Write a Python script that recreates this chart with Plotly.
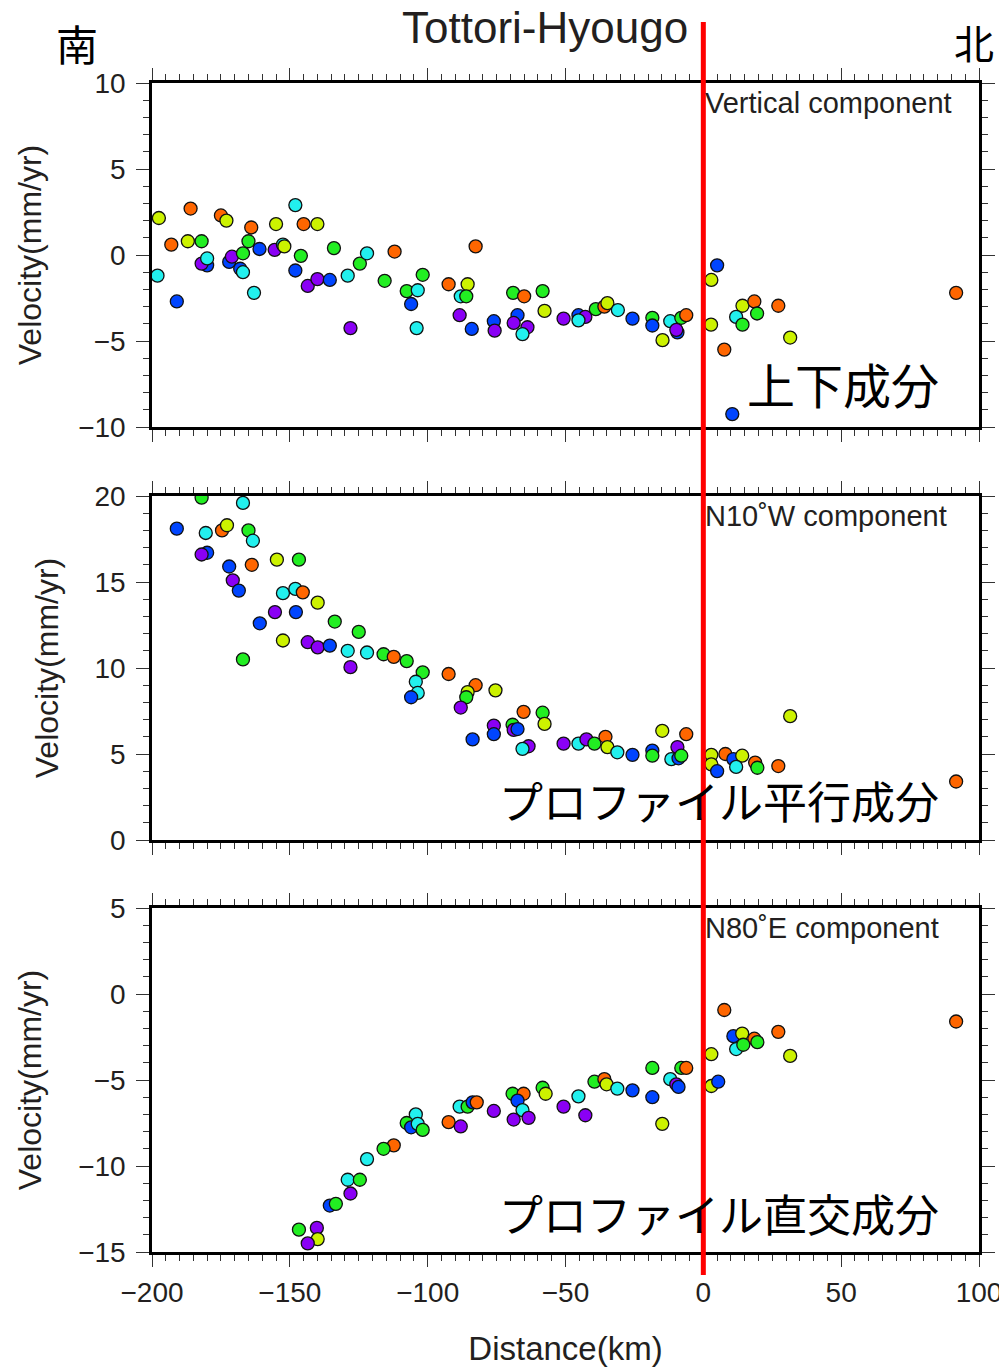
import plotly.graph_objects as go

# ---------------- data (distance km, velocity mm/yr, colour code) ----------------
v_x = [-197.5, -186, -193, -187, -182, -198, -191, -180, -182, -180, -175, -173, -172, -171,
       -168, -167, -167, -165, -164, -163, -161, -155, -155.5, -152.5, -152, -148, -145, -140,
       -146, -148, -143.5, -140, -135.5, -134, -129, -124.6, -122, -128, -112, -115.6, -107.6,
       -103.6, -106, -104, -101.8,
       -82.6, -92.4, -85.5, -88, -86, -88.4, -84, -76, -75.7, -69, -65, -67.4, -68.8, -63.8,
       -65.6, -58.3, -57.6, -50.7, -45.3, -42.8, -45.3, -39, -35.9, -34.8, -31, -25.7, -18.5,
       -18.5, -14.8, -12, -8, -6.2, -9.4, -9.8, 5, 2.9, 2.8, 7.6, 14.2, 18.5, 19.5, 11.9, 14.2,
       27.2, 31.5, 10.5, 91.7]
v_y = [2.15, 2.7, 0.6, 0.8, 0.8, -1.2, -2.7, -0.6, -0.5, -0.2, 2.3, 2.0, -0.4, -0.1,
       -0.8, -1.0, 0.1, 0.8, 1.6, -2.2, 0.35, 1.8, 0.3, 0.6, 0.5, 2.9, 1.8, 1.8,
       -0.05, -0.9, -1.8, -1.4, -1.45, 0.4, -1.2, -0.5, 0.1, -4.25, 0.2, -1.5, -2.1,
       -2.05, -2.85, -4.25, -1.15,
       0.5, -1.7, -1.7, -2.4, -2.4, -3.5, -4.3, -3.85, -4.4, -2.2, -2.4, -3.5, -3.95, -4.2,
       -4.6, -2.1, -3.25, -3.7, -3.5, -3.6, -3.8, -3.15, -3.0, -2.8, -3.2, -3.7, -3.65,
       -4.1, -4.95, -3.85, -3.65, -3.5, -4.5, -4.35, -0.6, -1.45, -4.05, -5.5, -2.95, -2.7, -3.4, -3.6, -4.05,
       -2.95, -4.8, -9.25, -2.2]
v_c = ["y", "o", "o", "y", "g", "c", "b", "b", "p", "c", "o", "y", "b", "p",
       "b", "c", "g", "g", "o", "c", "b", "y", "p", "c", "y", "c", "o", "y",
       "g", "b", "p", "p", "b", "g", "c", "g", "c", "p", "o", "g", "g",
       "c", "b", "c", "g",
       "o", "o", "y", "c", "g", "p", "b", "b", "p", "g", "o", "b", "p", "p",
       "c", "g", "y", "p", "b", "p", "c", "g", "o", "y", "c", "b", "g",
       "b", "y", "c", "g", "o", "b", "p", "b", "y", "y", "o", "y", "o", "g", "c", "g",
       "o", "y", "b", "o"]

n_x = [-182, -167, -191, -180.5, -174.6, -172.8, -165, -163.4, -180, -182, -154.7, -146.7,
       -172, -163.8, -170.7, -168.5, -152.5, -148, -145.3, -139.9, -155.4, -147.8, -160.9,
       -133.7, -125, -152.5, -143.5, -139.9, -135.5, -129, -122, -167, -116, -112.3, -107.6,
       -128, -101.8, -104.3, -103.6, -106, -92.4, -82.6, -85.5, -86, -75.4, -88, -65.2, -58.3,
       -57.6, -76, -69.2, -68.8, -67.4, -76, -83.7, -63.4, -65.6, -50.7, -45.3, -42.4, -39.5,
       -35.5, -34.8, -31.2, -25.7, -18.5, -18.5, -14.9, -6.2, -9.4, -11.6, -9, -8,
       2.9, 2.9, 5, 8, 10.9, 14.1, 11.9, 18.8, 19.6, 27.2, 31.5, 91.7]
n_y = [19.9, 19.6, 18.1, 17.85, 18.0, 18.3, 18.0, 17.4, 16.7, 16.6, 16.3, 16.3,
       15.9, 16.0, 15.1, 14.5, 14.35, 14.6, 14.4, 13.8, 13.25, 13.25, 12.6,
       12.7, 12.1, 11.6, 11.5, 11.2, 11.3, 11.0, 10.9, 10.5, 10.8, 10.65, 10.4,
       10.05, 9.75, 9.2, 8.55, 8.3, 9.65, 9.0, 8.6, 8.3, 8.7, 7.7, 7.45, 7.4,
       6.75, 6.65, 6.7, 6.4, 6.45, 6.15, 5.85, 5.45, 5.3, 5.6, 5.6, 5.85, 5.6,
       6.0, 5.4, 5.1, 4.95, 5.2, 4.9, 6.35, 6.15, 5.4, 4.7, 4.75, 4.9,
       4.95, 4.4, 4.0, 5.0, 4.7, 4.9, 4.25, 4.5, 4.2, 4.3, 7.2, 3.4]
n_c = ["g", "c", "b", "c", "o", "y", "g", "c", "b", "p", "y", "g",
       "b", "o", "p", "b", "c", "c", "o", "y", "p", "b", "b",
       "g", "g", "y", "p", "p", "b", "c", "c", "g", "g", "o", "g",
       "p", "g", "c", "c", "b", "o", "o", "y", "g", "y", "p", "o", "g",
       "y", "p", "g", "p", "b", "b", "b", "p", "c", "p", "c", "p", "g",
       "o", "y", "c", "b", "b", "g", "y", "o", "p", "c", "b", "g",
       "y", "y", "b", "o", "b", "y", "c", "o", "g", "o", "y", "o"]

e_x = [-104.3, -107.6, -106, -103.6, -101.8, -92.4, -88, -88.4, -85.5, -83.7, -82.2,
       -112.3, -116, -122, -129, -124.6, -128, -135.5, -133.3, -146.7, -140.2, -139.9, -143.5,
       -76, -69.2, -65.2, -67.4, -65.6, -68.8, -63.4, -58.3, -57.2, -50.7, -45.3, -42.8,
       -39.5, -35.9, -35.1, -31.2, -25.7, -18.5, -18.5, -14.9, -12, -9.8, -9, -8, -6.2,
       7.6, 10.9, 14.1, 18.5, 19.6, 11.9, 14.5, 2.9, 2.9, 5.4, 27.2, 31.5, 91.7]
e_y = [-7.0, -7.5, -7.75, -7.55, -7.9, -7.45, -7.7, -6.55, -6.55, -6.3, -6.3,
       -8.8, -9.0, -9.6, -10.8, -10.8, -11.6, -12.3, -12.2, -13.7, -13.6, -14.25, -14.5,
       -6.8, -5.8, -5.8, -6.2, -6.75, -7.3, -7.2, -5.45, -5.8, -6.55, -5.95, -7.05,
       -5.1, -4.95, -5.25, -5.5, -5.6, -6.0, -4.3, -7.55, -4.95, -5.25, -5.4, -4.3, -4.3,
       -0.93, -2.45, -2.3, -2.6, -2.8, -3.2, -2.95, -3.5, -5.35, -5.1, -2.2, -3.6, -1.6]
e_c = ["c", "g", "b", "c", "g", "o", "p", "c", "g", "b", "o",
       "o", "g", "c", "c", "g", "p", "b", "g", "g", "p", "y", "p",
       "p", "g", "o", "b", "c", "p", "p", "g", "y", "p", "c", "p",
       "g", "o", "y", "c", "b", "b", "g", "y", "c", "p", "b", "g", "o",
       "o", "b", "y", "o", "g", "c", "g", "y", "y", "b", "o", "y", "o"]

panel_labels = ["Vertical component", "N10˚W component", "N80˚E component"]
jp_labels = ["上下成分", "プロファイル平行成分", "プロファイル直交成分"]
y_ranges = [[-10, 10], [0, 20], [-15, 5]]
x_ticks = [-200, -150, -100, -50, 0, 50, 100]

COLORS = {"o": "#ff6600", "y": "#ccf200", "g": "#22ee22", "c": "#22f0ee",
          "b": "#0045ff", "p": "#8a00f5"}

# ---------------- figure ----------------
W, H = 999, 1368
L, R, T, B = 152, 20, 83, 116
plot_w = W - L - R
plot_h = H - T - B


def fy(py):
    return (H - B - py) / plot_h


def fx(px):
    return (px - L) / plot_w


domains = [[fy(427), 1.0], [fy(840), fy(496)], [0.0, fy(908)]]
TXT = "#231f20"
FONT = "Liberation Sans, Arial, Helvetica, sans-serif"

fig = go.Figure()
datasets = [(v_x, v_y, v_c), (n_x, n_y, n_c), (e_x, e_y, e_c)]
for i, (xs, ys, cs) in enumerate(datasets):
    k = "" if i == 0 else str(i + 1)
    fig.add_trace(go.Scatter(
        x=xs, y=ys, mode="markers", xaxis="x" + k, yaxis="y" + k,
        marker=dict(size=13, color=[COLORS[c] for c in cs],
                    line=dict(color="#111111", width=1.3)),
        showlegend=False, hoverinfo="skip"))

layout = dict(
    width=W, height=H, margin=dict(l=L, r=R, t=T, b=B, autoexpand=False),
    paper_bgcolor="white", plot_bgcolor="white",
    font=dict(family=FONT, color=TXT, size=24),
)
for i in range(3):
    k = "" if i == 0 else str(i + 1)
    xa = dict(range=[-200, 100], domain=[0, 1], showgrid=False, zeroline=False,
              automargin=False, ticklabeloverflow="allow",
              showline=True, linecolor="black", linewidth=2.5, mirror="allticks",
              ticks="outside", ticklen=12, tickwidth=1, tickcolor="#333333",
              tickvals=x_ticks, ticktext=[str(t).replace("-", "−") for t in x_ticks],
              showticklabels=(i == 2), tickfont=dict(size=28, family=FONT, color=TXT),
              ticklabelstandoff=2,
              minor=dict(ticks="outside", ticklen=6, tickwidth=1, tickcolor="#333333", dtick=5,
                         showgrid=False),
              anchor="y" + k)
    if i == 2:
        xa["title"] = dict(text="Distance(km)", font=dict(size=33, family=FONT, color=TXT),
                           standoff=30)
    else:
        xa["matches"] = "x3"
    yr = y_ranges[i]
    yt = list(range(yr[0], yr[1] + 1, 5))
    ya = dict(range=yr, domain=domains[i], showgrid=False, zeroline=False,
              automargin=False,
              showline=True, linecolor="black", linewidth=2.5, mirror="allticks",
              ticks="outside", ticklen=13, tickwidth=1, tickcolor="#333333",
              tickvals=yt, ticktext=[str(t).replace("-", "−") for t in yt],
              tickfont=dict(size=28, family=FONT, color=TXT),
              ticklabelstandoff=5,
              minor=dict(ticks="outside", ticklen=6, tickwidth=1, tickcolor="#333333", dtick=1,
                         showgrid=False),
              title=dict(text="Velocity(mm/yr)", font=dict(size=32, family=FONT, color=TXT),
                         standoff=27),
              anchor="x" + k)
    layout["xaxis" + k] = xa
    layout["yaxis" + k] = ya
fig.update_layout(**layout)

ann = []
top_px = [83, 496, 908]
jp_px = [383, 800, 1213]
jp_size = [48, 44, 44]
for i in range(3):
    ann.append(dict(text=panel_labels[i], xref="paper", yref="paper",
                    x=fx(703), y=fy(top_px[i] + 2), xanchor="left", yanchor="top",
                    showarrow=False, font=dict(size=29, family=FONT, color=TXT)))
    ann.append(dict(text=jp_labels[i], xref="paper", yref="paper",
                    x=fx(941), y=fy(jp_px[i]), xanchor="right", yanchor="middle",
                    showarrow=False, font=dict(size=jp_size[i], family="Noto Sans CJK JP",
                                               color="black")))
ann.append(dict(text="Tottori-Hyougo", xref="paper", yref="paper",
                x=fx(545), y=fy(28), xanchor="center", yanchor="middle",
                showarrow=False, font=dict(size=44, family=FONT, color=TXT)))
ann.append(dict(text="南", xref="paper", yref="paper",
                x=fx(77), y=fy(42), xanchor="center", yanchor="middle",
                showarrow=False, font=dict(size=42, family="Noto Sans CJK JP", color="black")))
ann.append(dict(text="北", xref="paper", yref="paper",
                x=fx(996), y=fy(42), xanchor="right", yanchor="middle",
                showarrow=False, font=dict(size=40, family="Noto Sans CJK JP", color="black")))
fig.update_layout(annotations=ann)

fig.add_shape(type="line", xref="x3", yref="paper", x0=0, x1=0, y0=fy(1275), y1=fy(22),
              line=dict(color="#ff0000", width=5))

fig.write_html("out.html")
